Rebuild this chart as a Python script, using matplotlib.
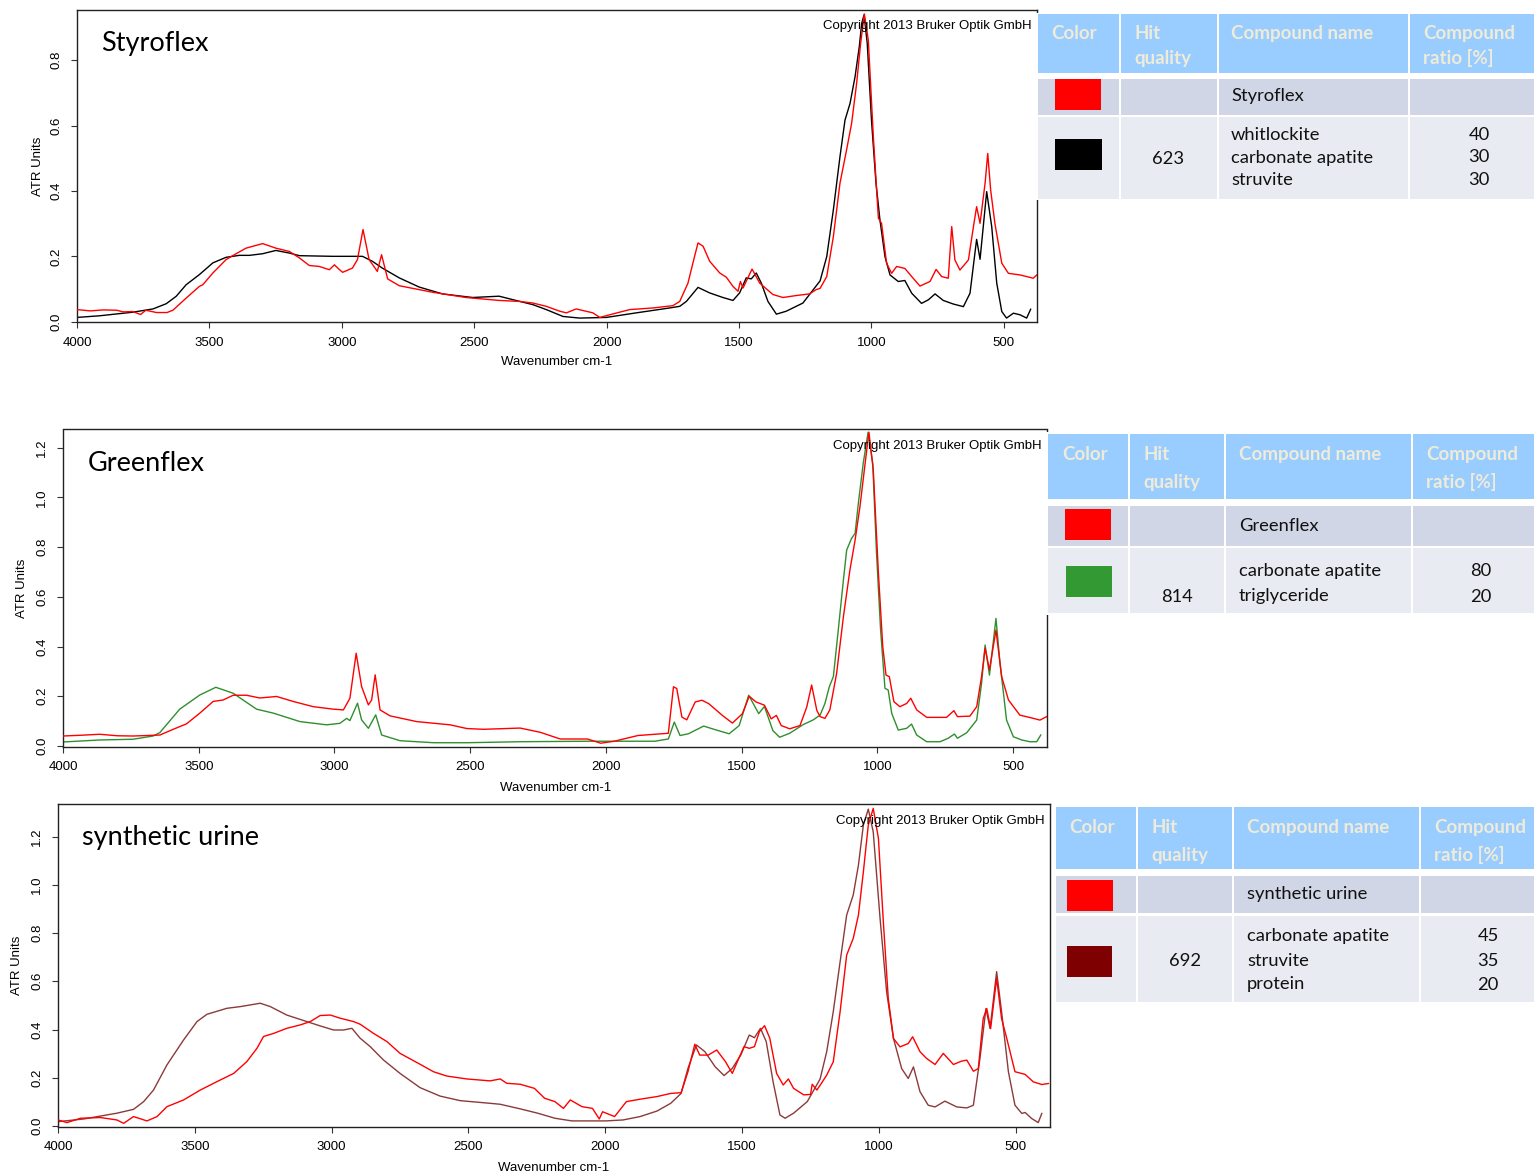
import numpy as np
import matplotlib
matplotlib.use('Agg')
import matplotlib.pyplot as plt
from matplotlib.patches import Rectangle

# ---------------- data: (wavenumber cm-1, ATR units) ----------------
styro_red = [
    (4000, .037), (3950, .033), (3900, .036), (3850, .035), (3826, .030), (3790, .031), (3760, .022),
    (3740, .035), (3700, .028), (3660, .028), (3638, .035), (3588, .072), (3538, .108), (3525, .113),
    (3487, .149), (3437, .190), (3412, .202), (3362, .225), (3299, .239), (3249, .225), (3198, .215),
    (3160, .195), (3123, .172), (3085, .169), (3047, .159), (3028, .174), (3010, .160), (2997, .151),
    (2960, .164), (2941, .190), (2920, .282), (2897, .190), (2866, .154), (2850, .205), (2827, .131),
    (2783, .110), (2657, .090), (2531, .074), (2406, .065), (2328, .062), (2278, .057), (2228, .047),
    (2177, .032), (2152, .027), (2115, .039), (2052, .027), (2026, .013), (1989, .021), (1913, .037),
    (1825, .042), (1750, .049), (1724, .062), (1693, .118), (1668, .200), (1655, .241), (1636, .231),
    (1611, .185), (1573, .149), (1548, .136), (1523, .108), (1504, .093), (1495, .123), (1485, .103),
    (1451, .161), (1422, .118), (1372, .083), (1334, .074), (1284, .080), (1234, .085), (1209, .098),
    (1194, .102), (1169, .138), (1144, .260), (1119, .424), (1094, .526), (1075, .607), (1056, .730),
    (1041, .852), (1027, .942), (1012, .862), (993, .566), (974, .317), (962, .301), (943, .179),
    (924, .148), (905, .169), (874, .163), (848, .138), (817, .109), (779, .123), (756, .160),
    (735, .138), (710, .133), (697, .291), (685, .189), (666, .158), (634, .189), (615, .291),
    (603, .352), (590, .301), (571, .424), (561, .515), (550, .403), (534, .301), (508, .179),
    (483, .148), (439, .143), (389, .133), (376, .143)]

styro_fit = [
    (4000, .013), (3915, .018), (3789, .029), (3713, .039), (3663, .055), (3625, .078), (3588, .113),
    (3538, .144), (3487, .180), (3437, .197), (3387, .203), (3349, .203), (3299, .208), (3249, .218),
    (3198, .210), (3160, .202), (3034, .200), (2922, .200), (2885, .185), (2847, .164), (2783, .134),
    (2708, .106), (2620, .085), (2506, .074), (2406, .078), (2328, .062), (2278, .052), (2228, .037),
    (2165, .016), (2102, .011), (2001, .013), (1888, .027), (1762, .042), (1724, .047), (1699, .062),
    (1655, .105), (1611, .088), (1561, .074), (1523, .065), (1498, .088), (1473, .134), (1454, .131),
    (1435, .149), (1416, .118), (1391, .062), (1359, .023), (1322, .032), (1259, .057), (1194, .125),
    (1169, .199), (1144, .342), (1119, .505), (1100, .617), (1081, .668), (1062, .750), (1046, .842),
    (1037, .913), (1028, .939), (1016, .852), (1000, .617), (983, .424), (968, .311), (949, .199),
    (930, .143), (899, .123), (874, .126), (848, .087), (811, .056), (785, .067), (760, .085),
    (729, .065), (691, .054), (653, .046), (628, .087), (603, .252), (590, .191), (565, .398),
    (546, .291), (527, .118), (508, .031), (490, .011), (464, .026), (439, .021), (414, .011),
    (399, .038)]

green_red = [
    (4000, .040), (3935, .043), (3865, .047), (3800, .041), (3742, .040), (3690, .042), (3643, .044),
    (3594, .067), (3545, .089), (3496, .132), (3447, .179), (3410, .185), (3373, .204), (3324, .204),
    (3275, .193), (3213, .199), (3152, .179), (3078, .158), (3004, .148), (2967, .145), (2943, .192),
    (2920, .373), (2900, .239), (2875, .165), (2863, .185), (2850, .286), (2832, .145), (2795, .121),
    (2697, .098), (2574, .085), (2512, .070), (2451, .067), (2316, .072), (2242, .055), (2168, .028),
    (2068, .028), (2019, .011), (1969, .019), (1882, .042), (1770, .051), (1751, .238), (1739, .231),
    (1720, .116), (1702, .105), (1671, .177), (1646, .184), (1621, .170), (1571, .123), (1534, .092),
    (1497, .130), (1472, .200), (1447, .177), (1416, .164), (1391, .109), (1372, .123), (1354, .082),
    (1323, .069), (1285, .082), (1260, .157), (1242, .245), (1223, .143), (1211, .118), (1193, .111),
    (1175, .145), (1150, .292), (1125, .520), (1101, .708), (1082, .828), (1064, .963), (1045, 1.137),
    (1031, 1.262), (1015, 1.110), (996, .694), (980, .399), (968, .285), (956, .279), (939, .178),
    (917, .158), (892, .171), (877, .192), (855, .145), (818, .115), (745, .115), (718, .142),
    (705, .118), (659, .120), (634, .158), (616, .279), (603, .393), (587, .306), (563, .466),
    (542, .279), (517, .185), (475, .124), (425, .111), (401, .104), (376, .118)]

green_fit = [
    (4000, .016), (3865, .024), (3742, .027), (3668, .040), (3643, .054), (3570, .148), (3496, .205),
    (3437, .236), (3373, .212), (3287, .148), (3225, .132), (3127, .098), (3029, .085), (2980, .091),
    (2955, .111), (2943, .102), (2915, .172), (2900, .105), (2875, .071), (2848, .125), (2826, .044),
    (2758, .021), (2635, .013), (2512, .013), (2316, .017), (2068, .019), (1820, .019), (1770, .028),
    (1748, .096), (1727, .042), (1696, .049), (1640, .080), (1596, .065), (1546, .049), (1509, .082),
    (1474, .204), (1437, .130), (1416, .159), (1385, .062), (1360, .035), (1323, .051), (1273, .086),
    (1236, .105), (1211, .124), (1193, .171), (1177, .238), (1162, .279), (1144, .466), (1125, .668),
    (1113, .788), (1095, .835), (1082, .855), (1070, .976), (1052, 1.137), (1034, 1.262),
    (1017, 1.137), (1003, .775), (988, .466), (972, .232), (960, .225), (947, .131), (923, .064),
    (892, .071), (874, .088), (855, .044), (818, .017), (769, .017), (739, .031), (716, .048),
    (705, .031), (671, .053), (634, .104), (616, .252), (603, .406), (587, .285), (563, .513),
    (548, .332), (524, .104), (499, .037), (468, .024), (438, .017), (413, .017), (398, .044)]

urine_red = [
    (4000, .025), (3967, .014), (3918, .032), (3845, .035), (3785, .025), (3760, .011), (3724, .039),
    (3675, .021), (3638, .039), (3602, .080), (3541, .108), (3480, .149), (3419, .184), (3358, .218),
    (3310, .267), (3273, .322), (3249, .371), (3212, .384), (3164, .405), (3115, .419), (3078, .433),
    (3042, .458), (3005, .460), (2969, .447), (2920, .433), (2896, .422), (2847, .384), (2798, .350),
    (2750, .301), (2677, .256), (2628, .225), (2579, .207), (2506, .195), (2421, .187), (2384, .195),
    (2360, .177), (2311, .173), (2259, .156), (2222, .115), (2184, .101), (2153, .073), (2128, .108),
    (2085, .080), (2047, .073), (2022, .029), (2010, .059), (1966, .039), (1923, .101), (1873, .111),
    (1811, .122), (1761, .135), (1723, .138), (1698, .225), (1673, .339), (1655, .294), (1624, .294),
    (1593, .315), (1561, .267), (1536, .218), (1512, .281), (1493, .329), (1474, .322), (1455, .329),
    (1437, .391), (1418, .416), (1399, .364), (1374, .218), (1350, .170), (1331, .195), (1312, .156),
    (1275, .129), (1250, .131), (1244, .173), (1227, .149), (1215, .169), (1191, .211), (1167, .266),
    (1142, .474), (1118, .709), (1094, .778), (1075, .875), (1057, 1.054), (1039, 1.248),
    (1021, 1.317), (1002, 1.193), (984, .847), (966, .529), (947, .363), (923, .328), (893, .342),
    (877, .370), (850, .308), (826, .280), (795, .255), (765, .301), (728, .255), (698, .269),
    (679, .273), (655, .227), (637, .238), (619, .446), (606, .487), (592, .404), (570, .612),
    (552, .446), (533, .363), (503, .225), (466, .214), (436, .183), (405, .172), (381, .176)]

urine_fit = [
    (4000, .018), (3906, .029), (3785, .053), (3724, .069), (3687, .101), (3651, .149), (3602, .253),
    (3541, .357), (3492, .433), (3456, .463), (3383, .488), (3334, .495), (3261, .509), (3224, .495),
    (3164, .460), (3091, .433), (3042, .415), (2993, .398), (2957, .398), (2926, .405), (2896, .364),
    (2859, .329), (2811, .274), (2750, .218), (2677, .159), (2604, .124), (2530, .105), (2421, .094),
    (2384, .090), (2311, .071), (2247, .053), (2184, .032), (2122, .021), (1998, .021), (1935, .025),
    (1873, .039), (1811, .062), (1761, .094), (1723, .135), (1698, .239), (1667, .336), (1636, .308),
    (1599, .246), (1566, .209), (1536, .239), (1505, .294), (1474, .377), (1455, .366), (1433, .405),
    (1412, .350), (1387, .184), (1362, .046), (1343, .032), (1312, .053), (1262, .101), (1215, .195),
    (1191, .308), (1167, .474), (1142, .681), (1118, .875), (1094, .958), (1075, 1.082),
    (1057, 1.248), (1039, 1.314), (1021, 1.220), (996, .861), (972, .556), (947, .363), (917, .238),
    (893, .197), (874, .245), (850, .142), (820, .086), (795, .079), (759, .103), (716, .079),
    (679, .075), (655, .086), (631, .280), (609, .487), (594, .404), (570, .640), (552, .474),
    (527, .225), (503, .086), (478, .052), (466, .056), (442, .031), (418, .014), (405, .052)]

sample_names = ["Styroflex", "Greenflex", "synthetic urine"]
hit_quality = ["623", "814", "692"]
compound_names = [["whitlockite", "carbonate apatite", "struvite"],
                  ["carbonate apatite", "triglyceride"],
                  ["carbonate apatite", "struvite", "protein"]]
compound_ratios = [["40", "30", "30"], ["80", "20"], ["45", "35", "20"]]
fit_colors = ["#000000", "#339933", "#7F0000"]
fit_line_colors = ["#000000", "#2F8F2F", "#8B3A3A"]
header_labels = ["Color", "Hit\nquality", "Compound name", "Compound\nratio [%]"]
yticks_list = [[0.0, 0.2, 0.4, 0.6, 0.8], [0.0, 0.2, 0.4, 0.6, 0.8, 1.0, 1.2],
               [0.0, 0.2, 0.4, 0.6, 0.8, 1.0, 1.2]]
xticks = [4000, 3500, 3000, 2500, 2000, 1500, 1000, 500]

# ---------------- figure ----------------
W, H = 1534, 1176
plt.rcParams['font.family'] = ['Liberation Sans', 'DejaVu Sans']
fig = plt.figure(figsize=(W / 100, H / 100), dpi=100)


def px_axes(l, t, r, b):
    return fig.add_axes([l / W, 1 - b / H, (r - l) / W, (b - t) / H])


panels = [
    dict(box=(77, 10, 1037, 322), ylim=(-0.001, 0.954), red=styro_red, fit=styro_fit),
    dict(box=(63, 429.5, 1047, 746.7), ylim=(-0.003, 1.273), red=green_red, fit=green_fit),
    dict(box=(58, 804.3, 1050, 1126.7), ylim=(-0.003, 1.334), red=urine_red, fit=urine_fit),
]

axes = []
for i, p in enumerate(panels):
    ax = px_axes(*p['box'])
    fw, fv = zip(*p['fit'])
    rw, rv = zip(*p['red'])
    ax.plot(fw, fv, color=fit_line_colors[i], lw=1.0, zorder=2, solid_joinstyle='round')
    ax.plot(rw, rv, color='#FF0000', lw=1.0, zorder=3, solid_joinstyle='round')
    ax.set_xlim(4000, 375)
    ax.set_ylim(*p['ylim'])
    ax.set_xticks(xticks)
    ax.set_xticklabels([str(t) for t in xticks])
    ax.set_yticks(yticks_list[i])
    ax.set_yticklabels(['%.1f' % t for t in yticks_list[i]], rotation=90, va='center')
    ax.tick_params(direction='out', length=4.5, width=0.8, labelsize=9.5, color='#333333')
    ax.tick_params(axis='x', pad=6)
    ax.tick_params(axis='y', pad=6)
    for s in ax.spines.values():
        s.set_linewidth(1.0)
        s.set_color('#222222')
    axes.append(ax)

# ---------------- overlay in pixel coordinates ----------------
ov = fig.add_axes([0, 0, 1, 1], zorder=10)
ov.set_xlim(0, W)
ov.set_ylim(H, 0)
ov.axis('off')
ov.patch.set_visible(False)

ylab_pos = [(38, 166), (22, 588), (17, 965)]
xlab_pos = [(557, 362), (556, 788), (554, 1168)]
title_pos = [(101, 50.7), (88, 470.7), (82, 845)]
copy_pos = [(1032, 29), (1042, 449), (1045, 824)]
for i in range(3):
    ov.text(*ylab_pos[i], "ATR Units", rotation=90, ha='center', va='center', fontsize=9.5)
    ov.text(*xlab_pos[i], "Wavenumber cm-1", ha='center', va='center', fontsize=9.5)
    ov.text(*title_pos[i], sample_names[i], ha='left', va='baseline', fontsize=19.5,
            family=['Lato', 'DejaVu Sans'])
    ov.text(*copy_pos[i], "Copyright 2013 Bruker Optik GmbH", ha='right', va='baseline',
            fontsize=9.5)

tables = [
    dict(bg=(1036, 13, 1534, 199.5),
         cols=[(1037.7, 1119), (1121, 1216.7), (1218.7, 1407.7), (1410, 1534)],
         rows=[(14, 72.7), (78.7, 115), (116.7, 199)],
         sw_red=(1055, 79, 1101, 110), sw_fit=(1055, 139, 1102, 170),
         hdr_x=[1051, 1134, 1231, 1423], hdr_y=(39, 64),
         name_y=101, row2_y=[140, 162.5, 185], hit_xy=(1168, 164), ratio_x=1479),
    dict(bg=(1045, 432, 1534, 615),
         cols=[(1048, 1128), (1130, 1224), (1226, 1411), (1413, 1534)],
         rows=[(434, 499), (506, 546), (548, 613)],
         sw_red=(1065, 509, 1111, 540), sw_fit=(1066, 566, 1112, 597),
         hdr_x=[1062, 1143.5, 1239, 1426.5], hdr_y=(460, 488),
         name_y=531, row2_y=[576, 601.5], hit_xy=(1176.5, 601.5), ratio_x=1480.5),
    dict(bg=(1054, 805, 1534, 1004),
         cols=[(1056, 1136), (1138, 1232), (1234, 1419), (1421, 1534)],
         rows=[(807, 869), (876, 913), (916, 1002)],
         sw_red=(1067, 880, 1113, 911), sw_fit=(1067, 946, 1112, 977),
         hdr_x=[1069, 1151.5, 1247, 1434], hdr_y=(833, 861),
         name_y=899, row2_y=[941, 965.5, 989.5], hit_xy=(1185, 965.5), ratio_x=1488),
]

hdr_color = '#99CCFF'
row_colors = ['#D0D6E5', '#E8EBF2']
hdr_text = '#EFEBD9'
tfam = ['Lato', 'DejaVu Sans']
body_fs = 13.2
hdr_fs = 13.5


def rect(x0, y0, x1, y1, color):
    ov.add_patch(Rectangle((x0, y0), x1 - x0, y1 - y0, facecolor=color, edgecolor='none'))


for i, t in enumerate(tables):
    rect(*t['bg'], 'white')
    for (c0, c1) in t['cols']:
        for r, (r0, r1) in enumerate(t['rows']):
            rect(c0, r0, c1, r1, hdr_color if r == 0 else row_colors[r - 1])
    rect(*t['sw_red'], '#FF0000')
    rect(*t['sw_fit'], fit_colors[i])
    for k, lab in enumerate(header_labels):
        for j, ln in enumerate(lab.split('\n')):
            ov.text(t['hdr_x'][k], t['hdr_y'][j], ln, ha='left', va='baseline',
                    fontsize=hdr_fs, color=hdr_text, fontweight='bold', family=tfam)
    ov.text(t['hdr_x'][2], t['name_y'], sample_names[i], ha='left', va='baseline',
            fontsize=body_fs, family=tfam, color='#111111')
    ov.text(*t['hit_xy'], hit_quality[i], ha='center', va='baseline', fontsize=body_fs,
            family=tfam, color='#111111')
    for j, (nm, rt) in enumerate(zip(compound_names[i], compound_ratios[i])):
        ov.text(t['hdr_x'][2], t['row2_y'][j], nm, ha='left', va='baseline', fontsize=body_fs,
                family=tfam, color='#111111')
        ov.text(t['ratio_x'], t['row2_y'][j], rt, ha='center', va='baseline', fontsize=body_fs,
                family=tfam, color='#111111')

fig.savefig('out.png', dpi=100)
